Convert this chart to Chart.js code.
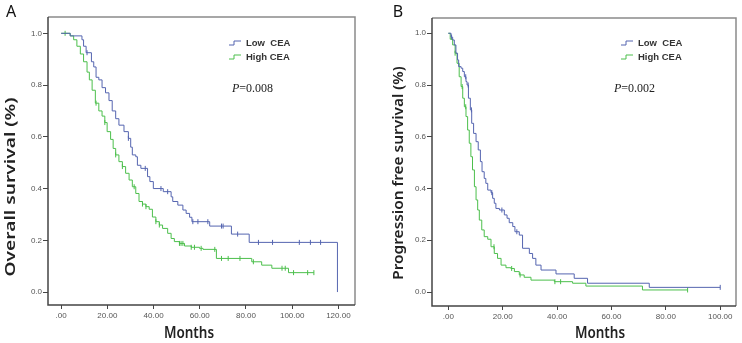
<!DOCTYPE html>
<html>
<head>
<meta charset="utf-8">
<script src="https://cdn.jsdelivr.net/npm/chart.js@4.4.1/dist/chart.umd.min.js"></script>
<style>
  body { margin: 0; background: #fff; }
  #wrap { position: relative; width: 742px; height: 343px; }
  .panel { position: absolute; top: 0; width: 371px; height: 343px; }
</style>
</head>
<body>
<div id="wrap">
  <div class="panel" style="left:0"><canvas id="chartA" width="371" height="343"></canvas></div>
  <div class="panel" style="left:371px"><canvas id="chartB" width="371" height="343"></canvas></div>
</div>
<script>
// Curvas de Kaplan-Meier (tempo em meses, sobrevida 0-1)

// A - sobrevida global, CEA baixo
const osLowTime = [0, 3.9, 9.0, 9.7, 10.8, 13.1, 14.1, 15.1, 16.3, 17.7, 19.2, 20.7, 22.1, 23.6, 25.0, 27.2, 29.1, 30.1, 30.8, 32.3, 33.0, 34.5, 37.4, 38.4, 39.9, 44.2, 47.6, 48.3, 50.5, 52.7, 54.1, 55.6, 56.6, 64.3, 73.7, 81.4, 119.6];
const osLowSurv = [1.0, 0.99, 0.975, 0.95, 0.925, 0.89, 0.87, 0.83, 0.82, 0.79, 0.77, 0.74, 0.70, 0.67, 0.645, 0.62, 0.594, 0.56, 0.53, 0.523, 0.49, 0.478, 0.446, 0.427, 0.40, 0.388, 0.368, 0.35, 0.336, 0.317, 0.304, 0.289, 0.272, 0.255, 0.224, 0.192, 0.0];
const osLowCens = [11.2, 29.1, 36.4, 43.2, 46.1, 57.0, 59.2, 63.5, 69.4, 70.1, 76.4, 85.4, 91.5, 103.1, 107.9, 112.3];

// A - sobrevida global, CEA alto
const osHighTime = [0, 3.9, 5.4, 6.8, 8.3, 9.7, 11.2, 12.2, 13.4, 14.8, 16.3, 17.7, 18.9, 19.9, 21.4, 22.5, 23.6, 25.0, 26.5, 27.9, 29.4, 30.8, 32.3, 33.7, 35.2, 36.7, 38.1, 39.5, 41.0, 42.5, 43.9, 46.1, 47.6, 49.0, 51.2, 53.4, 56.3, 59.9, 61.4, 67.2, 82.5, 86.8, 91.2, 98.4, 109.4];
const osHighSurv = [1.0, 0.99, 0.975, 0.95, 0.92, 0.89, 0.85, 0.82, 0.78, 0.73, 0.70, 0.68, 0.655, 0.62, 0.59, 0.555, 0.53, 0.504, 0.485, 0.459, 0.433, 0.407, 0.381, 0.35, 0.34, 0.33, 0.32, 0.29, 0.272, 0.259, 0.246, 0.227, 0.207, 0.195, 0.188, 0.178, 0.173, 0.169, 0.165, 0.130, 0.117, 0.104, 0.092, 0.075, 0.075];
const osHighCens = [1.7, 15.1, 18.9, 23.6, 26.5, 31.6, 35.2, 36.7, 41.0, 42.5, 51.2, 51.9, 52.7, 56.3, 57.7, 60.6, 66.5, 69.4, 72.3, 77.4, 83.2, 95.6, 97.0, 100.6, 106.7, 109.4];

// B - sobrevida livre de progressão, CEA baixo
const pfsLowTime = [0, 1.0, 1.6, 2.2, 2.8, 3.4, 3.8, 4.7, 5.3, 5.9, 6.5, 6.9, 7.4, 8.1, 8.6, 9.3, 10.2, 11.0, 11.8, 12.4, 13.2, 13.8, 14.5, 15.7, 16.3, 16.9, 17.5, 18.8, 20.6, 21.6, 22.4, 23.7, 24.5, 26.1, 27.3, 29.8, 31.0, 32.2, 34.1, 39.6, 46.3, 51.2, 73.9, 100];
const pfsLowSurv = [1.0, 0.985, 0.974, 0.955, 0.923, 0.897, 0.871, 0.865, 0.852, 0.832, 0.813, 0.80, 0.749, 0.704, 0.652, 0.613, 0.581, 0.549, 0.504, 0.465, 0.439, 0.42, 0.394, 0.384, 0.362, 0.343, 0.323, 0.317, 0.298, 0.285, 0.268, 0.253, 0.233, 0.22, 0.169, 0.149, 0.13, 0.104, 0.085, 0.07, 0.053, 0.034, 0.018, 0.018];
const pfsLowCens = [1.2, 6.4, 7.3, 8.5, 16.0, 19.7, 25.2, 100];

// B - sobrevida livre de progressão, CEA alto
const pfsHighTime = [0, 0.7, 1.6, 2.5, 3.2, 4.0, 4.7, 5.3, 5.9, 6.5, 7.1, 7.7, 8.3, 8.9, 9.6, 10.2, 10.8, 11.4, 12.3, 13.2, 14.5, 15.7, 16.9, 18.1, 19.4, 21.2, 23.0, 24.3, 26.1, 27.9, 30.4, 39.0, 45.7, 50.6, 71.4, 88.0];
const pfsHighSurv = [1.0, 0.977, 0.955, 0.923, 0.884, 0.832, 0.794, 0.749, 0.716, 0.678, 0.626, 0.575, 0.523, 0.472, 0.407, 0.356, 0.317, 0.278, 0.24, 0.214, 0.204, 0.175, 0.149, 0.13, 0.104, 0.094, 0.091, 0.079, 0.066, 0.057, 0.046, 0.04, 0.034, 0.023, 0.008, 0.008];
const pfsHighCens = [2.5, 5.1, 6.4, 16.8, 23.3, 26.4, 39.2, 41.3, 88.0];

// Eixos
const yTicks = [0, 0.2, 0.4, 0.6, 0.8, 1.0];
const xTicksA = [0, 20, 40, 60, 80, 100, 120];
const xTicksB = [0, 20, 40, 60, 80, 100];
const seriesNames = ['Low  CEA', 'High CEA'];

const BLUE = '#5565b0';
const GREEN = '#4cbf4c';

function toPoints(times, surv) {
    return times.map((t, i) => ({ x: t, y: surv[i] }));
}

// valor da curva em escada no tempo t
function survAt(times, surv, t) {
    let v = surv[0];
    for (let i = 0; i < times.length; i++) {
        if (times[i] <= t) v = surv[i];
    }
    return v;
}

function censorPoints(times, surv, cens) {
    return cens.map(t => ({ x: t, y: survAt(times, surv, t) }));
}

function drawText(ctx, text, x, y, font, color, rotate, stretch) {
    ctx.save();
    ctx.translate(x, y);
    ctx.scale(1, stretch || 1);
    if (rotate) ctx.rotate(-Math.PI / 2);
    ctx.font = font;
    ctx.fillStyle = color;
    ctx.textAlign = 'center';
    ctx.textBaseline = 'middle';
    ctx.fillText(text, 0, 0);
    ctx.restore();
}

// Plugin para moldura, legenda, valor de P e títulos
const annotPlugin = {
    id: 'annot',
    afterDraw(chart, args, o) {
        const ctx = chart.ctx;
        const a = chart.chartArea;
        ctx.save();
        // moldura
        ctx.lineWidth = 1.5;
        ctx.strokeStyle = '#8a8a8a';
        ctx.beginPath();
        ctx.moveTo(a.left, a.top);
        ctx.lineTo(a.right, a.top);
        ctx.lineTo(a.right, a.bottom);
        ctx.stroke();
        ctx.strokeStyle = '#444';
        ctx.beginPath();
        ctx.moveTo(a.left, a.top);
        ctx.lineTo(a.left, a.bottom);
        ctx.lineTo(a.right, a.bottom);
        ctx.stroke();

        // legenda
        const cores = [BLUE, GREEN];
        seriesNames.forEach((nome, i) => {
            const y = o.legY + i * 14;
            ctx.strokeStyle = cores[i];
            ctx.lineWidth = 1;
            ctx.beginPath();
            ctx.moveTo(o.legX, y + 2);
            ctx.lineTo(o.legX + 5, y + 2);
            ctx.lineTo(o.legX + 5, y - 2);
            ctx.lineTo(o.legX + 12, y - 2);
            ctx.stroke();
            ctx.font = 'bold 9.5px "Liberation Sans", Arial, sans-serif';
            ctx.fillStyle = '#333';
            ctx.textAlign = 'left';
            ctx.textBaseline = 'middle';
            ctx.fillText(nome, o.legX + 17, y);
        });

        // valor de P
        ctx.fillStyle = '#222';
        ctx.textBaseline = 'middle';
        ctx.font = 'italic 12px "Liberation Serif", serif';
        ctx.fillText('P', o.pX, o.pY);
        const w = ctx.measureText('P').width;
        ctx.font = '12px "Liberation Serif", serif';
        ctx.fillText(o.pText, o.pX + w, o.pY);
        ctx.restore();

        // títulos
        drawText(ctx, o.yTitle, o.yTitleX, o.yTitleY, '600 14px "Noto Sans", sans-serif', '#222', true, o.yStretch);
        drawText(ctx, 'Months', o.xTitleX, o.xTitleY, '600 13.5px "Noto Sans", sans-serif', '#222', false, 1.2);
        drawText(ctx, o.letter, o.letterX, o.letterY, '16px "Noto Sans", sans-serif', '#111', false, 1);
    }
};

function makePanel(id, cfg) {
    const tickFont = { family: '"Liberation Sans", Arial, sans-serif', size: 8 };
    return new Chart(document.getElementById(id), {
        type: 'line',
        data: {
            datasets: [
                { data: toPoints(cfg.lowT, cfg.lowS), borderColor: BLUE, borderWidth: 1, pointRadius: 0, stepped: true, fill: false },
                { data: toPoints(cfg.highT, cfg.highS), borderColor: GREEN, borderWidth: 1, pointRadius: 0, stepped: true, fill: false },
                { data: censorPoints(cfg.lowT, cfg.lowS, cfg.lowC), showLine: false, borderColor: BLUE, pointStyle: 'line', pointRotation: 90, pointRadius: 2.5, pointBorderWidth: 1 },
                { data: censorPoints(cfg.highT, cfg.highS, cfg.highC), showLine: false, borderColor: GREEN, pointStyle: 'line', pointRotation: 90, pointRadius: 2.5, pointBorderWidth: 1 }
            ]
        },
        options: {
            responsive: false,
            animation: false,
            layout: { padding: { top: cfg.top, right: cfg.right, left: 0, bottom: 0 } },
            plugins: {
                legend: { display: false },
                tooltip: { enabled: false },
                annot: cfg.annot
            },
            scales: {
                x: {
                    type: 'linear',
                    min: cfg.xMin,
                    max: cfg.xMax,
                    afterBuildTicks: s => { s.ticks = cfg.xTicks.map(v => ({ value: v })); },
                    afterFit: s => { s.height = cfg.xh; },
                    ticks: {
                        callback: v => v === 0 ? '.00' : v.toFixed(2),
                        font: tickFont, color: '#555', padding: 2, maxRotation: 0, autoSkip: false
                    },
                    grid: { drawOnChartArea: false, drawTicks: true, tickLength: 4, color: '#444' },
                    border: { display: false }
                },
                y: {
                    min: cfg.yMin,
                    max: cfg.yMax,
                    afterBuildTicks: s => { s.ticks = yTicks.map(v => ({ value: v })); },
                    afterFit: s => { s.width = cfg.yw; },
                    ticks: {
                        callback: v => v.toFixed(1),
                        font: tickFont, color: '#555', padding: 1
                    },
                    grid: { drawOnChartArea: false, drawTicks: true, tickLength: 5, color: '#444' },
                    border: { display: false }
                }
            }
        },
        plugins: [annotPlugin]
    });
}

makePanel('chartA', {
    lowT: osLowTime, lowS: osLowSurv, lowC: osLowCens,
    highT: osHighTime, highS: osHighSurv, highC: osHighCens,
    xTicks: xTicksA, xMin: -5.7, xMax: 127.2, yMin: -0.05, yMax: 1.063,
    top: 17, right: 16, xh: 38, yw: 48,
    annot: {
        legX: 229, legY: 43, pX: 232, pY: 89, pText: '=0.008',
        yTitle: 'Overall survival (%)', yTitleX: 11, yTitleY: 187, yStretch: 1.37,
        xTitleX: 189, xTitleY: 333, letter: 'A', letterX: 11, letterY: 12
    }
});

makePanel('chartB', {
    lowT: pfsLowTime, lowS: pfsLowSurv, lowC: pfsLowCens,
    highT: pfsHighTime, highS: pfsHighSurv, highC: pfsHighCens,
    xTicks: xTicksB, xMin: -6.0, xMax: 105.8, yMin: -0.054, yMax: 1.059,
    top: 18, right: 6, xh: 37, yw: 61,
    annot: {
        legX: 250, legY: 43, pX: 243, pY: 89, pText: '=0.002',
        yTitle: 'Progression free survival (%)', yTitleX: 28, yTitleY: 173, yStretch: 1.1,
        xTitleX: 229, xTitleY: 333, letter: 'B', letterX: 27, letterY: 12
    }
});
</script>
</body>
</html>
